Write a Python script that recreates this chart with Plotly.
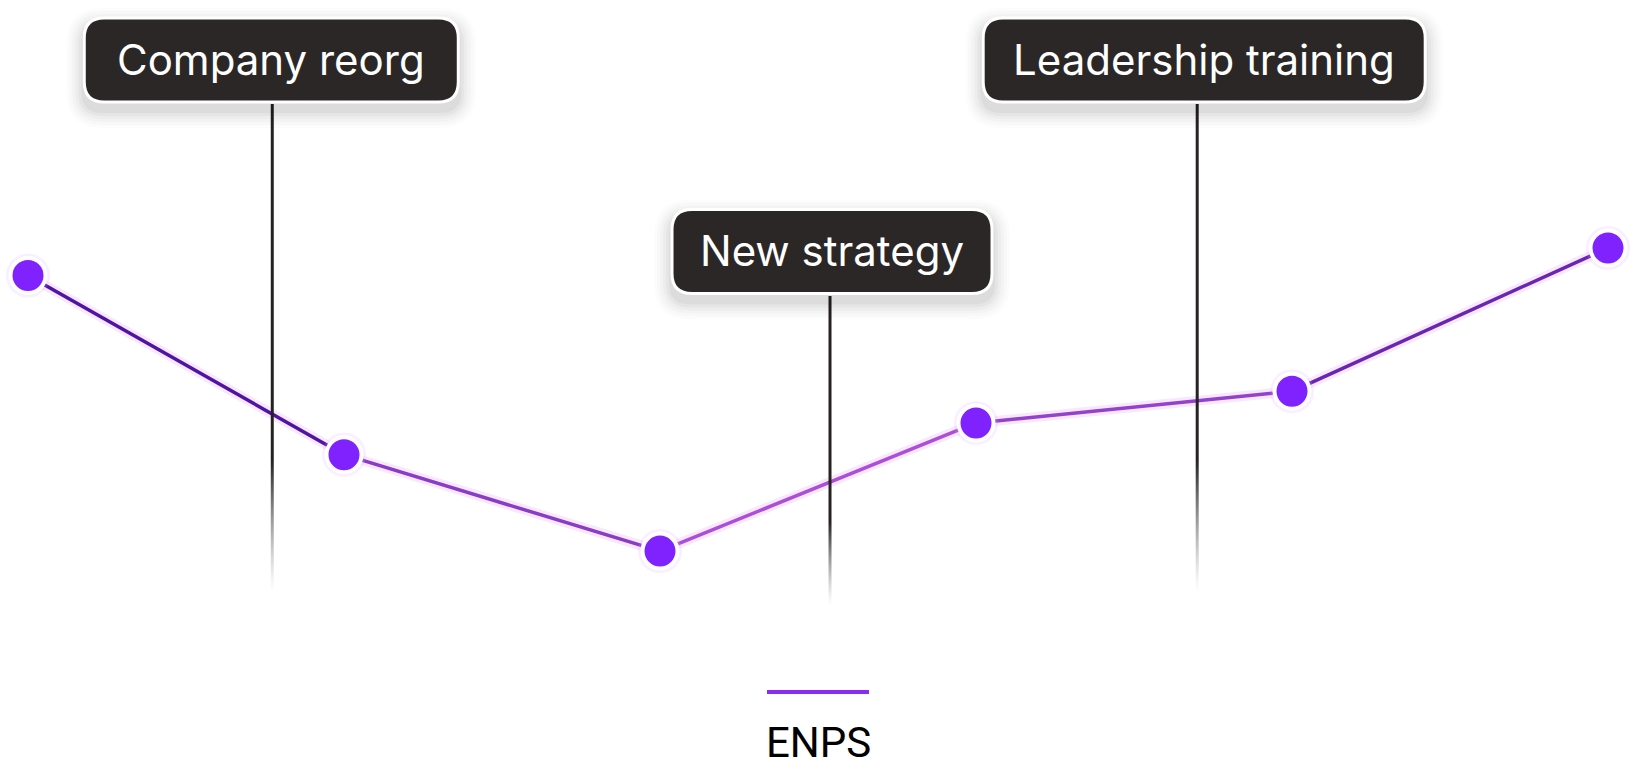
import plotly.graph_objects as go

# ---------------- data ----------------
survey_index = [0, 1, 2, 3, 4, 5]
enps = [30, 17, 10, 19.3, 21.6, 32]
series_name = "ENPS"

event_labels = ["Company reorg", "New strategy", "Leadership training"]
event_x = [0.773, 2.538, 3.70]

# ---------------- styles / layout ----------------
W, H_FIG = 1636, 779
M_L, M_R, M_T, M_B = 28, 28, 0, 159
PLOT_H = H_FIG - M_T - M_B

event_tier_center_px = [60, 251.5, 60]      # vertical centre of each label box (px from plot top)
event_box_half_w = [187, 160, 221]
event_box_dx = [-1, 2, 7]
event_line_end_px = [593, 605, 593]
BOX_HALF_H = 42
BOX_R = 20

seg_colors = ["#4f15a2", "#8a3cc4", "#ad4ed6", "#9442ca", "#6a26b0"]
marker_color = "#7f22fe"
box_fill = "#2b2727"
event_line_color = "38,34,34"
label_font = "Inter"
label_size = 42


def paper_y(px):
    return 1 - px / PLOT_H


def rrect(hw, hh, r, dx=0, dy=0):
    x0, x1 = -hw + dx, hw + dx
    y0, y1 = -hh + dy, hh + dy
    return (f"M{x0 + r},{y0} L{x1 - r},{y0} Q{x1},{y0} {x1},{y0 + r} "
            f"L{x1},{y1 - r} Q{x1},{y1} {x1 - r},{y1} L{x0 + r},{y1} "
            f"Q{x0},{y1} {x0},{y1 - r} L{x0},{y0 + r} Q{x0},{y0} {x0 + r},{y0} Z")


fig = go.Figure()

# glow under the line
fig.add_trace(go.Scatter(
    x=survey_index, y=enps, mode="lines",
    line=dict(color="rgba(222,150,255,0.22)", width=10),
    hoverinfo="skip", showlegend=False, cliponaxis=False))

# line segments (colour varies along the line)
for i in range(len(enps) - 1):
    fig.add_trace(go.Scatter(
        x=survey_index[i:i + 2], y=enps[i:i + 2], mode="lines",
        line=dict(color=seg_colors[i], width=3.5),
        hoverinfo="skip", showlegend=False, cliponaxis=False))

# marker halo
fig.add_trace(go.Scatter(
    x=survey_index, y=enps, mode="markers",
    marker=dict(size=44, color="rgba(225,160,255,0.18)"),
    hoverinfo="skip", showlegend=False, cliponaxis=False))

# markers
fig.add_trace(go.Scatter(
    x=survey_index, y=enps, mode="markers", name=series_name,
    marker=dict(size=35, color=marker_color, line=dict(color="white", width=4)),
    showlegend=False, cliponaxis=False))

shapes = []
annotations = []

for i, label in enumerate(event_labels):
    cy = event_tier_center_px[i]
    hw = event_box_half_w[i]
    dx = event_box_dx[i]
    yc = paper_y(cy)

    # vertical line with fade at the bottom
    y_start = round(cy + BOX_HALF_H + 2)
    y_end = event_line_end_px[i]
    fade_start = round(y_end - 0.27 * (y_end - y_start))
    shapes.append(dict(type="line", xref="x", yref="paper",
                       x0=event_x[i], x1=event_x[i],
                       y0=paper_y(y_start), y1=paper_y(fade_start),
                       line=dict(color=f"rgb({event_line_color})", width=3),
                       layer="above"))
    steps = list(range(fade_start, y_end, 2))
    n = len(steps)
    for k, a in enumerate(steps):
        b = min(a + 2, y_end)
        op = (1 - (k + 0.5) / n) ** 1.3
        shapes.append(dict(type="line", xref="x", yref="paper",
                           x0=event_x[i], x1=event_x[i],
                           y0=paper_y(a), y1=paper_y(b),
                           line=dict(color=f"rgba({event_line_color},{op:.3f})", width=3),
                           layer="above"))

    # soft shadow
    for s, op in [(16, 0.012), (13, 0.016), (10, 0.02), (7, 0.025), (4, 0.03), (1, 0.035)]:
        shapes.append(dict(type="path", xref="x", yref="paper",
                           xsizemode="pixel", ysizemode="pixel",
                           xanchor=event_x[i], yanchor=yc,
                           path=rrect(hw + 2 + s, BOX_HALF_H + 2 + s, BOX_R + s, dx, -8),
                           fillcolor=f"rgba(0,0,0,{op})", line=dict(width=0),
                           layer="above"))
    # box
    shapes.append(dict(type="path", xref="x", yref="paper",
                       xsizemode="pixel", ysizemode="pixel",
                       xanchor=event_x[i], yanchor=yc,
                       path=rrect(hw, BOX_HALF_H, BOX_R, dx, 0),
                       fillcolor=box_fill, line=dict(color="white", width=3),
                       layer="above"))
    annotations.append(dict(
        x=event_x[i], y=yc, xref="x", yref="paper", xshift=dx, yshift=1,
        text=label, showarrow=False, xanchor="center", yanchor="middle",
        font=dict(family=label_font, size=label_size, color="white")))

# legend (symbol above text)
legend_line_px = 692
shapes.append(dict(type="line", xref="paper", yref="paper",
                   xsizemode="pixel", xanchor=0.5, x0=-51, x1=51,
                   y0=paper_y(legend_line_px), y1=paper_y(legend_line_px),
                   line=dict(color="#8b2cf5", width=4)))
annotations.append(dict(
    x=0.5, y=paper_y(742), xref="paper", yref="paper",
    text=series_name, showarrow=False, xanchor="center", yanchor="middle",
    font=dict(family="Roboto", size=42, color="black")))

fig.update_layout(
    width=W, height=H_FIG,
    margin=dict(l=M_L, r=M_R, t=M_T, b=M_B),
    paper_bgcolor="white", plot_bgcolor="white",
    xaxis=dict(visible=False, range=[0, 5], fixedrange=True),
    yaxis=dict(visible=False, range=[5, 50], fixedrange=True),
    shapes=shapes, annotations=annotations,
    showlegend=False,
)

fig.write_html("out.html", config={"displayModeBar": False},
               post_script="document.body.style.margin='0';document.body.style.overflow='hidden';")
